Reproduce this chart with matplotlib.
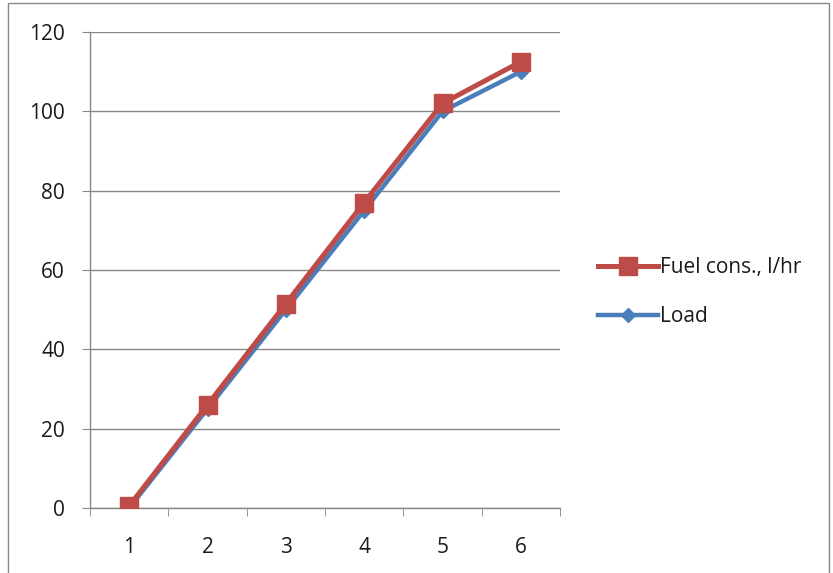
import matplotlib
matplotlib.use("Agg")
import matplotlib.pyplot as plt
from matplotlib.patches import Rectangle
import numpy as np

categories = ["1", "2", "3", "4", "5", "6"]
fuel = [0.5, 26, 51.5, 77, 102, 112.5]
load = [0, 25, 50, 75, 100, 110]
yticks = [0, 20, 40, 60, 80, 100, 120]

plt.rcParams['font.family'] = ['Open Sans', 'DejaVu Sans']

fig = plt.figure(figsize=(8.33, 5.73), dpi=100)
W, H = 833, 573
ax = fig.add_axes([90 / W, (H - 508) / H, (560 - 90) / W, (508 - 32) / H])

x = np.arange(len(categories))
red = "#BE4B48"
blue = "#4A7EBB"
l_load, = ax.plot(x, load, color=blue, lw=3.2, marker="D", ms=7, label="Load", zorder=3)
l_fuel, = ax.plot(x, fuel, color=red, lw=3.6, marker="s", ms=13, label="Fuel cons., l/hr", zorder=4)

ax.set_xlim(-0.5, len(categories) - 0.5)
ax.set_ylim(0, 120)
ax.set_yticks(yticks)
ax.set_yticklabels([str(v) for v in yticks])
ax.set_xticks(x)
ax.set_xticklabels(categories)
ax.set_xticks(np.arange(len(categories) + 1) - 0.5, minor=True)
ax.tick_params(axis='x', which='major', length=0, pad=21, labelsize=15, colors="#1a1a1a")
ax.tick_params(axis='x', which='minor', length=6, color="#888888", direction='out')
ax.tick_params(axis='y', length=6, color="#888888", direction='out', pad=12, labelsize=15, labelcolor="#1a1a1a")
ax.grid(axis='y', color="#888888", lw=1)
ax.set_axisbelow(True)
for s in ["top", "right"]:
    ax.spines[s].set_visible(False)
for s in ["left", "bottom"]:
    ax.spines[s].set_color("#888888")
    ax.spines[s].set_linewidth(1)

leg = fig.legend(handles=[l_fuel, l_load], loc="center left",
                 bbox_to_anchor=(579 / W, 1 - 292 / H), frameon=False,
                 fontsize=15, handlelength=2.9, handletextpad=0.08,
                 labelspacing=1.35)
for t in leg.get_texts():
    t.set_color("#1a1a1a")

fig.patches.append(Rectangle((8 / W, -0.01), (829 - 8) / W, 1 - 3 / H + 0.01,
                             transform=fig.transFigure, fill=False,
                             edgecolor="#888888", lw=1))

fig.savefig("out.png", dpi=100)
